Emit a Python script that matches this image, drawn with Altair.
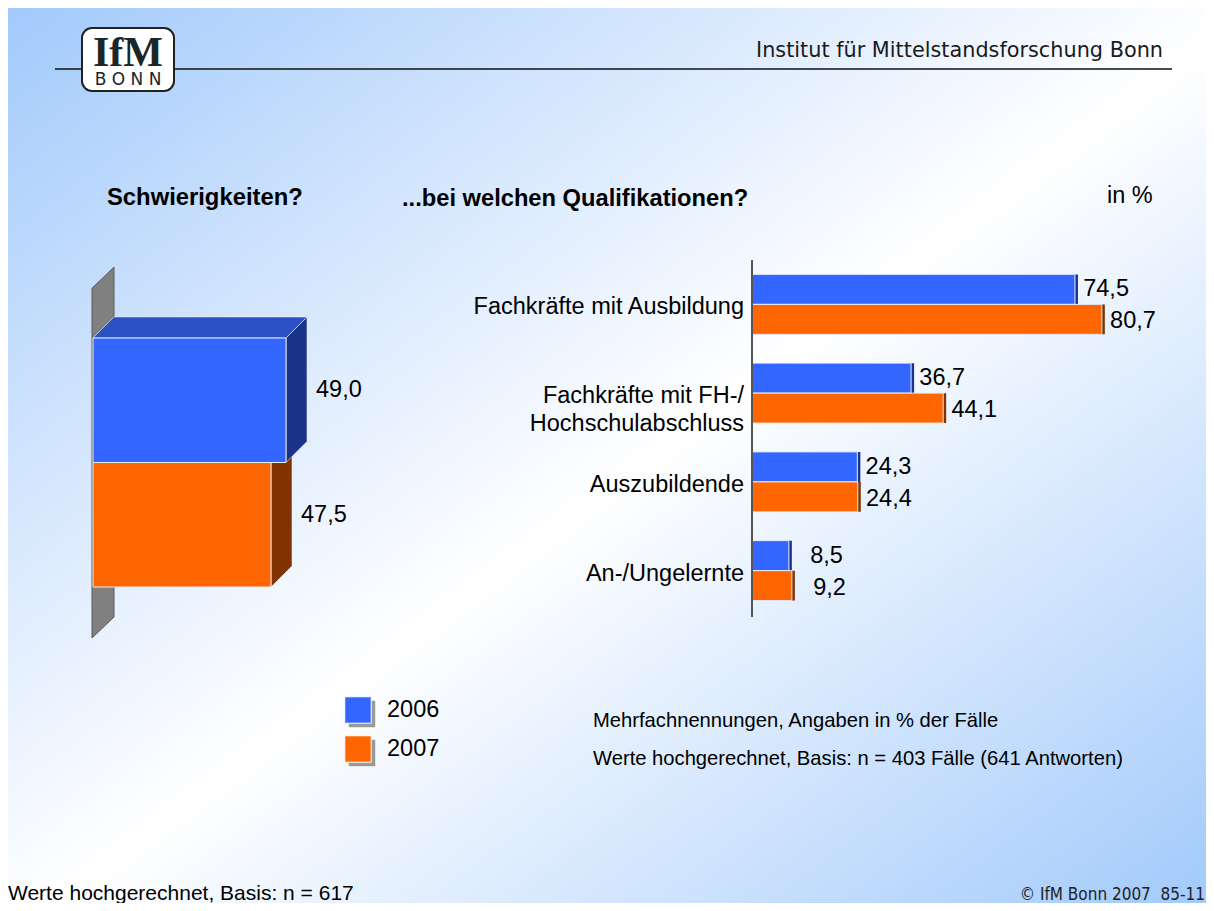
import altair as alt
import pandas as pd

# ---------------- data ----------------
categories = ["Fachkräfte mit Ausbildung", "Fachkräfte mit FH-/\nHochschulabschluss",
              "Auszubildende", "An-/Ungelernte"]
years = ["2006", "2007"]
values_2006 = [74.5, 36.7, 24.3, 8.5]
values_2007 = [80.7, 44.1, 24.4, 9.2]

overall_years = ["2006", "2007"]
overall_values = [49.0, 47.5]

# ---------------- styling ----------------
W, H = 1198, 895
FONT = "Liberation Sans, Arial, Helvetica, sans-serif"
FRONT = {"2006": "#3366FF", "2007": "#FF6600"}
SIDE = {"2006": "#1A3388", "2007": "#803300"}
TOP = "#2A50C4"


def fmt(v):
    return f"{v:.1f}".replace(".", ",")


def fill_by_year(cmap):
    return alt.condition("datum.year == '2006'", alt.value(cmap["2006"]), alt.value(cmap["2007"]))


def label(text, x, y, size=23, weight="normal", align="left", font=FONT, color="#000000",
          baseline="alphabetic"):
    return alt.Chart(pd.DataFrame({"t": [text]})).mark_text(
        align=align, baseline=baseline, fontSize=size, fontWeight=weight, font=font, color=color
    ).encode(x=alt.value(x), y=alt.value(y), text="t:N")


# ---------------- background ----------------
bg = alt.Chart(pd.DataFrame({"a": [0]})).mark_rect(
    fill=alt.LinearGradient(
        gradient="linear",
        stops=[
            alt.GradientStop(color="#A2CAFB", offset=0),
            alt.GradientStop(color="#F5F9FF", offset=0.46),
            alt.GradientStop(color="#FFFFFF", offset=0.52),
            alt.GradientStop(color="#A2CAFB", offset=1),
        ],
        x1=0, y1=0, x2=1, y2=1,
    )
).encode(x=alt.value(0), x2=alt.value(W), y=alt.value(0), y2=alt.value(H))

# ---------------- header ----------------
header_line = alt.Chart(pd.DataFrame({"a": [0]})).mark_rule(color="#111111", strokeWidth=1.5).encode(
    x=alt.value(47), x2=alt.value(1164), y=alt.value(61))
logo_box = alt.Chart(pd.DataFrame({"a": [0]})).mark_rect(
    fill="white", stroke="#222222", strokeWidth=2, cornerRadius=10
).encode(x=alt.value(74), x2=alt.value(166), y=alt.value(20), y2=alt.value(83))
logo_ifm = label("IfM", 120, 58, size=42, weight="bold", align="center",
                 font="Liberation Serif, Times New Roman, serif", color="#1B2626")
logo_bonn = label("B O N N", 120, 77, size=17, align="center", font="DejaVu Sans, sans-serif",
                  color="#1B2626")
institut = label("Institut für Mittelstandsforschung Bonn", 1155, 49, size=20.8,
                 align="right", font="DejaVu Sans, Verdana, sans-serif", color="#1A1A1A")

# ---------------- titles ----------------
t1 = label("Schwierigkeiten?", 99, 197, size=23.8, weight="bold")
t2 = label("...bei welchen Qualifikationen?", 394, 198, size=23.7, weight="bold")
t3 = label("in %", 1099, 195, size=23.5)

# ---------------- left 3D bars ----------------
BASE = 29.7
DX = 2.1
DY = 0.169


def LX():
    return alt.Scale(domain=[BASE, 52.0], range=[85, 308], nice=False, zero=False)


def LY():
    return alt.Scale(domain=[0, 2], range=[330, 579], nice=False, zero=False)


df_lf = pd.DataFrame({
    "year": overall_years,
    "v": overall_values,
    "base": [BASE] * len(overall_values),
    "i0": list(range(len(overall_values))),
})
df_lf["i1"] = df_lf["i0"] + 1
df_lf["mid"] = df_lf["i0"] + 0.5
df_lf["label"] = [fmt(v) for v in overall_values]

wall = alt.Chart(pd.DataFrame({
    "x": [BASE - 0.1, BASE + DX],
    "y": [-0.40, -0.40 - DY],
    "y2": [2.41, 2.41 - DY],
})).mark_area(orient="vertical", fill="#808080", stroke="#5A5A5A", strokeWidth=1).encode(
    x=alt.X("x:Q", scale=LX(), axis=None),
    y=alt.Y("y:Q", scale=LY(), axis=None),
    y2="y2:Q",
)

left_layers = [wall]
for k in reversed(range(len(overall_values))):
    yr = overall_years[k]
    v = overall_values[k]
    side_df = pd.DataFrame({"x": [v, v + DX], "y": [k, k - DY], "y2": [k + 1, k + 1 - DY]})
    side = alt.Chart(side_df).mark_area(orient="vertical", fill=SIDE[yr],
                                        stroke="#E8ECF5", strokeWidth=0.6).encode(
        x=alt.X("x:Q", scale=LX(), axis=None),
        y=alt.Y("y:Q", scale=LY(), axis=None),
        y2="y2:Q",
    )
    left_layers.append(side)
    if k == 0:
        top_df = pd.DataFrame({"y": [k - DY, k], "x": [BASE + DX, BASE], "x2": [v + DX, v]})
        top = alt.Chart(top_df).mark_area(orient="horizontal", fill=TOP,
                                          stroke="#E8ECF5", strokeWidth=0.6).encode(
            y=alt.Y("y:Q", scale=LY(), axis=None),
            x=alt.X("x:Q", scale=LX(), axis=None),
            x2="x2:Q",
        )
        left_layers.append(top)
    front = alt.Chart(df_lf[df_lf["year"] == yr]).mark_rect(
        fill=FRONT[yr], stroke="#E8ECF5", strokeWidth=1
    ).encode(
        x=alt.X("v:Q", scale=LX(), axis=None),
        x2="base:Q",
        y=alt.Y("i0:Q", scale=LY(), axis=None),
        y2="i1:Q",
    )
    left_layers.append(front)

left_labels = alt.Chart(df_lf).mark_text(
    align="left", baseline="middle", dx=30, dy=-10, fontSize=23.5, font=FONT, color="#000000"
).encode(
    x=alt.X("v:Q", scale=LX(), axis=None),
    y=alt.Y("mid:Q", scale=LY(), axis=None),
    text="label:N",
)
left_layers.append(left_labels)

# ---------------- right grouped bars ----------------
rows = []
for c, a, b in zip(categories, values_2006, values_2007):
    rows.append({"cat": c, "year": "2006", "val": a, "label": fmt(a)})
    rows.append({"cat": c, "year": "2007", "val": b, "label": fmt(b)})
df_r = pd.DataFrame(rows)


def xr():
    return alt.X("val:Q", scale=alt.Scale(domain=[0, 100], range=[744, 1177.5], nice=False), axis=None)


def yr_():
    return alt.Y("cat:N", scale=alt.Scale(domain=categories, range=[252, 607],
                                          paddingInner=0.324, paddingOuter=0.162),
                 axis=None, sort=categories)


def yo():
    return alt.YOffset("year:N", scale=alt.Scale(domain=years, paddingInner=0, paddingOuter=0),
                       sort=years)


bars_side = alt.Chart(df_r).mark_bar(xOffset=3, yOffset=-2).encode(
    x=xr(), y=yr_(), yOffset=yo(), fill=fill_by_year(SIDE))
bars_front = alt.Chart(df_r).mark_bar(stroke="#E6ECFF", strokeWidth=1).encode(
    x=xr(), y=yr_(), yOffset=yo(), fill=fill_by_year(FRONT))
labels_2006 = alt.Chart(df_r).transform_filter("datum.year == '2006'").mark_text(
    align="right", baseline="middle", dx=54, dy=-15, fontSize=23.5, font=FONT, color="#000000"
).encode(x=xr(), y=yr_(), text="label:N")
labels_2007 = alt.Chart(df_r).transform_filter("datum.year == '2007'").mark_text(
    align="right", baseline="middle", dx=54, dy=17, fontSize=23.5, font=FONT, color="#000000"
).encode(x=xr(), y=yr_(), text="label:N")
cat_labels = alt.Chart(pd.DataFrame({"cat": categories})).mark_text(
    align="right", baseline="middle", dx=-8, dy=3, fontSize=23.5, font=FONT, color="#000000",
    lineBreak="\n", lineHeight=28
).encode(x=alt.value(744), y=yr_(), text="cat:N")
axis_line = alt.Chart(pd.DataFrame({"val": [0]})).mark_rule(color="#555555", strokeWidth=2).encode(
    x=xr(), y=alt.value(252), y2=alt.value(609))

right_layers = [bars_side, bars_front, axis_line, labels_2006, labels_2007, cat_labels]

# ---------------- legend ----------------
def yl():
    return alt.Y("year:N", scale=alt.Scale(type="point", domain=years, range=[702, 741], padding=0),
                 axis=None)


df_leg = pd.DataFrame({"year": years})
leg_shadow = alt.Chart(df_leg).mark_square(size=700, opacity=1, color="#999999",
                                           xOffset=4, yOffset=4).encode(
    x=alt.value(350), y=yl())
leg_box = alt.Chart(df_leg).mark_square(size=700, opacity=1, stroke="white", strokeWidth=1).encode(
    x=alt.value(350), y=yl(), fill=fill_by_year(FRONT))
leg_text = alt.Chart(df_leg).mark_text(align="left", baseline="middle", fontSize=23.5, font=FONT,
                                       color="#000000").encode(
    x=alt.value(379), y=yl(), text="year:N")
legend_layers = [leg_shadow, leg_box, leg_text]

# ---------------- notes ----------------
n1 = label("Mehrfachnennungen, Angaben in % der Fälle", 585, 719, size=20.2)
n2 = label("Werte hochgerechnet, Basis: n = 403 Fälle (641 Antworten)", 585, 757, size=20.2)
n3 = label("Werte hochgerechnet, Basis: n = 617", 0, 892, size=21)
n4 = label("© IfM Bonn 2007\u00a0\u00a085-11", 1197, 892, size=17, align="right",
           font="DejaVu Sans Condensed, Liberation Sans Narrow, Liberation Sans, sans-serif",
           color="#222222")

chart = alt.layer(
    bg, header_line, logo_box, logo_ifm, logo_bonn, institut,
    t1, t2, t3,
    *left_layers, *right_layers, *legend_layers,
    n1, n2, n3, n4,
).resolve_scale(
    x="independent", y="independent", yOffset="independent"
).properties(
    width=W, height=H, padding=0,
    autosize=alt.AutoSizeParams(type="none"),
).configure_view(stroke=None)

chart.save("out.html", embed_options={"renderer": "svg", "actions": False})
